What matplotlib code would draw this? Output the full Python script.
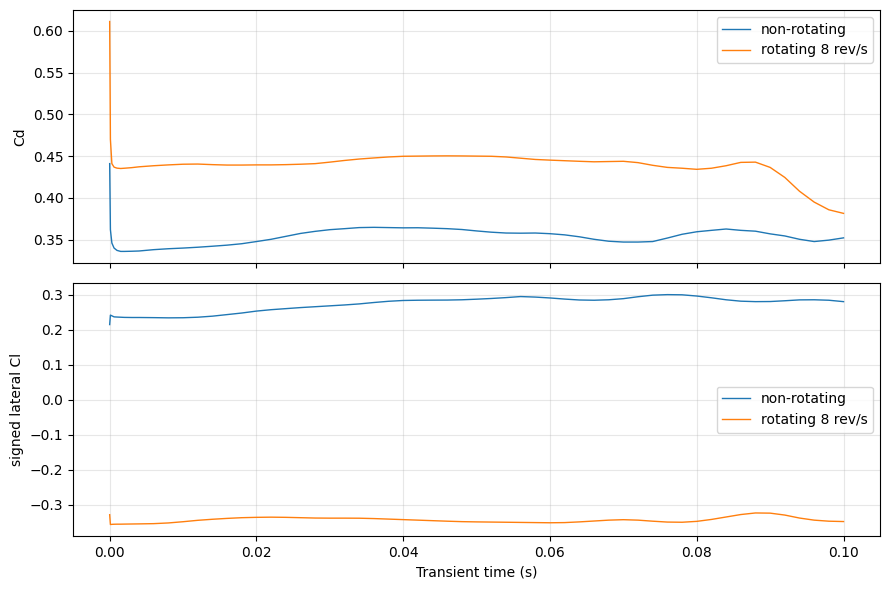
import matplotlib
matplotlib.use("Agg")
import matplotlib.pyplot as plt

t = [0.0, 0.0001, 0.0003, 0.0006, 0.001, 0.0015, 0.002, 0.003, 0.004,
     0.006, 0.008, 0.010, 0.012, 0.014, 0.016, 0.018, 0.020, 0.022, 0.024,
     0.026, 0.028, 0.030, 0.032, 0.034, 0.036, 0.038, 0.040, 0.042, 0.044,
     0.046, 0.048, 0.050, 0.052, 0.054, 0.056, 0.058, 0.060, 0.062, 0.064,
     0.066, 0.068, 0.070, 0.072, 0.074, 0.076, 0.078, 0.080, 0.082, 0.084,
     0.086, 0.088, 0.090, 0.092, 0.094, 0.096, 0.098, 0.100]

cd_nonrot = [0.441, 0.362, 0.346, 0.340, 0.3372, 0.336, 0.336, 0.3362, 0.3365,
             0.3381, 0.3392, 0.3400, 0.3410, 0.3422, 0.3435, 0.3452, 0.3478, 0.3505, 0.3540,
             0.3575, 0.3600, 0.3620, 0.3632, 0.3645, 0.3648, 0.3645, 0.3642, 0.3643, 0.3638,
             0.3632, 0.3622, 0.3605, 0.3590, 0.3580, 0.3578, 0.3580, 0.3572, 0.3558, 0.3535,
             0.3505, 0.3482, 0.3472, 0.3472, 0.3478, 0.3520, 0.3565, 0.3595, 0.3612, 0.3628,
             0.3612, 0.3602, 0.3570, 0.3545, 0.3505, 0.3478, 0.3495, 0.3522]

cd_rot = [0.611, 0.470, 0.441, 0.4368, 0.4356, 0.4352, 0.4355, 0.4362, 0.4372,
          0.4385, 0.4395, 0.4403, 0.4405, 0.4398, 0.4393, 0.4393, 0.4395, 0.4395, 0.4398,
          0.4403, 0.4410, 0.4428, 0.4448, 0.4465, 0.4478, 0.4490, 0.4498, 0.4500, 0.4502,
          0.4503, 0.4502, 0.4500, 0.4498, 0.4490, 0.4475, 0.4460, 0.4452, 0.4445, 0.4438,
          0.4432, 0.4435, 0.4438, 0.4422, 0.4390, 0.4365, 0.4355, 0.4342, 0.4355, 0.4385,
          0.4425, 0.4428, 0.4365, 0.4245, 0.4080, 0.3950, 0.3858, 0.3815]

cl_nonrot = [0.215, 0.242, 0.240, 0.237, 0.2365, 0.236, 0.2355, 0.2352, 0.2352,
             0.2348, 0.2342, 0.2345, 0.2360, 0.2390, 0.2435, 0.2480, 0.2535, 0.2575, 0.2605,
             0.2635, 0.2660, 0.2685, 0.2710, 0.2740, 0.2780, 0.2815, 0.2838, 0.2845, 0.2848,
             0.2850, 0.2858, 0.2875, 0.2895, 0.2920, 0.2950, 0.2935, 0.2910, 0.2878, 0.2852,
             0.2845, 0.2858, 0.2890, 0.2945, 0.2990, 0.3005, 0.3000, 0.2965, 0.2915, 0.2858,
             0.2818, 0.2805, 0.2808, 0.2830, 0.2855, 0.2858, 0.2845, 0.2805]

cl_rot = [-0.328, -0.356, -0.3555, -0.3552, -0.355, -0.355, -0.3548, -0.3545, -0.3542,
          -0.3535, -0.3515, -0.3480, -0.3440, -0.3410, -0.3385, -0.3365, -0.3355, -0.3350, -0.3355,
          -0.3365, -0.3375, -0.3378, -0.3378, -0.3380, -0.3390, -0.3405, -0.3420, -0.3435, -0.3450,
          -0.3465, -0.3478, -0.3485, -0.3490, -0.3495, -0.3500, -0.3505, -0.3510, -0.3505, -0.3485,
          -0.3460, -0.3435, -0.3422, -0.3435, -0.3465, -0.3490, -0.3495, -0.3470, -0.3415, -0.3345,
          -0.3275, -0.3230, -0.3235, -0.3290, -0.3375, -0.3435, -0.3465, -0.3475]

labels = ["non-rotating", "rotating 8 rev/s"]

fig, (ax1, ax2) = plt.subplots(2, 1, figsize=(8.9, 5.9), dpi=100, sharex=True)
fig.subplots_adjust(left=0.082, right=0.989, top=0.983, bottom=0.0915, hspace=0.08)

ax1.plot(t, cd_nonrot, lw=1.0, label=labels[0])
ax1.plot(t, cd_rot, lw=1.0, label=labels[1])
ax1.set_ylabel("Cd")
ax1.grid(True, alpha=0.3)
ax1.legend(loc="upper right")

ax2.plot(t, cl_nonrot, lw=1.0, label=labels[0])
ax2.plot(t, cl_rot, lw=1.0, label=labels[1])
ax2.set_ylabel("signed lateral Cl")
ax2.set_xlabel("Transient time (s)")
ax2.grid(True, alpha=0.3)
ax2.legend(loc="center right")

fig.savefig("out.png", dpi=100)
